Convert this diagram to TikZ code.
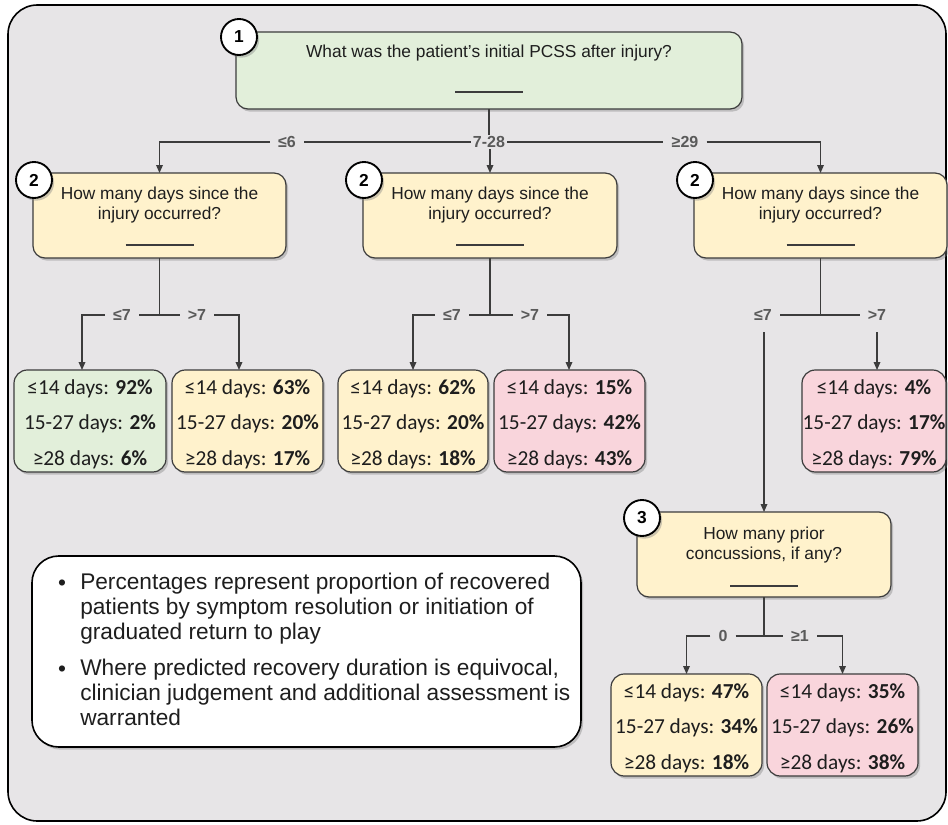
\documentclass[tikz,border=0pt]{standalone}
\usepackage{fontspec}
\setmainfont{Liberation Sans}
\newfontfamily\calfont{Carlito}
\usetikzlibrary{shadows,arrows.meta,calc}
\definecolor{bgc}{HTML}{E7E5E7}
\definecolor{grn}{HTML}{E2EFDA}
\definecolor{ylw}{HTML}{FFF2CC}
\definecolor{pnk}{HTML}{F9D5DC}
\definecolor{edge}{HTML}{3C3C3C}
\definecolor{txt}{HTML}{1E1E1E}
\definecolor{lblc}{HTML}{5A5A5A}
\begin{document}
\begin{tikzpicture}[x=0.75pt,y=-0.75pt,
  sz/.style 2 args={minimum width=0.75pt*#1,minimum height=0.75pt*#2},
  shd/.style={drop shadow={shadow xshift=1.6pt,shadow yshift=-2pt,opacity=0.4}},
  qbox/.style={draw=edge,line width=0.9pt,rounded corners=9pt,fill=ylw,inner sep=0pt,outer sep=0pt,shd},
  leaf/.style={draw=edge,line width=0.9pt,rounded corners=10pt,inner sep=0pt,outer sep=0pt,shd},
  qtext/.style={font=\fontsize{13}{15}\selectfont,align=center,text=txt,inner sep=0pt},
  ltext/.style={font=\calfont\fontsize{16}{26.5}\selectfont,align=center,text=txt,inner sep=0pt},
  num/.style={circle,draw=black,line width=1.4pt,fill=white,minimum size=27pt,inner sep=0pt,font=\bfseries\fontsize{13}{13}\selectfont,shd},
  lbl/.style={fill=bgc,text=lblc,font=\bfseries\fontsize{12}{12}\selectfont,inner ysep=1pt,inner xsep=6pt},
  conn/.style={draw=edge,line width=0.9pt},
  arr/.style={conn,-{Triangle[length=6pt,width=5pt]}},
  uline/.style={draw=edge,line width=0.9pt},
  notetext/.style={anchor=north west,inner sep=0pt,align=left,text=txt,font=\fontsize{17}{18.75}\selectfont},
  bullet/.style={anchor=base,inner sep=0pt,text=txt,font=\fontsize{17}{18.75}\selectfont}
]
\useasboundingbox (0,0) rectangle (948,824);
% frame
\node (frame) [draw=black,line width=1.2pt,rounded corners=22pt,fill=bgc,inner sep=0pt,sz={938}{816}] at (477,413) {};

% question boxes
\node (q1) [qbox,fill=grn,sz={506}{77}] at (489,70.5) {};
\node (q1t) [qtext] at ($(q1.north)+(0,21)$) {What was the patient’s initial PCSS after injury?};
\draw[uline] ($(q1.north)+(-34,60)$) -- ($(q1.north)+(34,60)$);
\node (c1) [num] at ($(q1.north west)+(3,5)$) {1};

\node (q2a) [qbox,sz={253}{85}] at (159.5,215.5) {};
\node (q2b) [qbox,sz={254}{85}] at (490,215.5) {};
\node (q2c) [qbox,sz={253}{85}] at (820.5,215.5) {};
\foreach \q in {q2a,q2b,q2c}{
  \node (\q t) [qtext] at ($(\q.north)+(0,32)$) {How many days since the\\injury occurred?};
  \draw[uline] ($(\q.north)+(-34,72)$) -- ($(\q.north)+(34,72)$);
  \node (\q c) [num] at ($(\q.north west)+(1,7)$) {2};
}

\node (q3) [qbox,sz={254}{85}] at (764,554.5) {};
\node (q3t) [qtext] at ($(q3.north)+(0,33)$) {How many prior\\concussions, if any?};
\draw[uline] ($(q3.north)+(-34,74)$) -- ($(q3.north)+(34,74)$);
\node (q3c) [num] at ($(q3.north west)+(5,6)$) {3};

% leaves
\node (L1) [leaf,fill=grn,sz={152}{102}] at (90,421) {};
\node (L2) [leaf,fill=ylw,sz={151}{102}] at (247.5,421) {};
\node (L3) [leaf,fill=ylw,sz={150}{102}] at (413,421) {};
\node (L4) [leaf,fill=pnk,sz={151}{102}] at (569.5,421) {};
\node (L5) [leaf,fill=pnk,sz={144}{102}] at (874,421) {};
\node (L6) [leaf,fill=ylw,sz={151}{102}] at (686.5,725) {};
\node (L7) [leaf,fill=pnk,sz={151}{102}] at (842.5,725) {};

\node (L1t) [ltext] at ($(L1.center)+(0,3)$) {≤14 days: \textbf{92\%}\\15-27 days: \textbf{2\%}\\≥28 days: \textbf{6\%}};
\node (L2t) [ltext] at ($(L2.center)+(0,3)$) {≤14 days: \textbf{63\%}\\15-27 days: \textbf{20\%}\\≥28 days: \textbf{17\%}};
\node (L3t) [ltext] at ($(L3.center)+(0,3)$) {≤14 days: \textbf{62\%}\\15-27 days: \textbf{20\%}\\≥28 days: \textbf{18\%}};
\node (L4t) [ltext] at ($(L4.center)+(0,3)$) {≤14 days: \textbf{15\%}\\15-27 days: \textbf{42\%}\\≥28 days: \textbf{43\%}};
\node (L5t) [ltext] at ($(L5.center)+(0,3)$) {≤14 days: \textbf{4\%}\\15-27 days: \textbf{17\%}\\≥28 days: \textbf{79\%}};
\node (L6t) [ltext] at ($(L6.center)+(0,3)$) {≤14 days: \textbf{47\%}\\15-27 days: \textbf{34\%}\\≥28 days: \textbf{18\%}};
\node (L7t) [ltext] at ($(L7.center)+(0,3)$) {≤14 days: \textbf{35\%}\\15-27 days: \textbf{26\%}\\≥28 days: \textbf{38\%}};

% level 0 connectors
\node (l6) [lbl] at (287,142) {≤6};
\node (l728) [lbl,inner xsep=1.5pt] at (489,142) {7-28};
\node (l29) [lbl] at (685,142) {≥29};
\draw[arr] (l6.west) -| (q2a.north);
\draw[conn] (l6.east) -- (l728.west);
\draw[conn] (l728.east) -- (l29.west);
\draw[arr] (l29.east) -| (q2c.north);
\draw[conn] (q1.south) -- (l728.north);
\draw[arr] (l728.south) -- (l728.south -| q2b.north) -- (q2b.north);

% level 1 left
\node (la1) [lbl] at (122,315) {≤7};
\node (lb1) [lbl] at (197,315) {>7};
\coordinate (ja) at (159.5,315);
\coordinate (a1) at (82,315);
\coordinate (b1) at (239,315);
\draw[conn] (q2a.south) -- (ja);
\draw[conn] (la1.east) -- (lb1.west);
\draw[arr] (la1.west) -- (a1) -- (a1 |- L1.north);
\draw[arr] (lb1.east) -- (b1) -- (b1 |- L2.north);

% level 1 middle
\node (la2) [lbl] at (452,315) {≤7};
\node (lb2) [lbl] at (530,315) {>7};
\coordinate (jb) at (490,315);
\coordinate (a2) at (413,315);
\coordinate (b2) at (569,315);
\draw[conn] (q2b.south) -- (jb);
\draw[conn] (la2.east) -- (lb2.west);
\draw[arr] (la2.west) -- (a2) -- (a2 |- L3.north);
\draw[arr] (lb2.east) -- (b2) -- (b2 |- L4.north);

% level 1 right
\node (la3) [lbl] at (763,315) {≤7};
\node (lb3) [lbl] at (877,315) {>7};
\coordinate (jc) at (820.5,315);
\coordinate (v1) at (764,332);
\coordinate (v2) at (877,332);
\draw[conn] (q2c.south) -- (jc);
\draw[conn] (la3.east) -- (lb3.west);
\draw[arr] (v1) -- (v1 |- q3.north);
\draw[arr] (v2) -- (v2 |- L5.north);

% level 2
\node (l0) [lbl] at (723,636) {0};
\node (l1p) [lbl] at (800,636) {≥1};
\coordinate (jd) at (764,636);
\draw[conn] (q3.south) -- (jd);
\draw[conn] (l0.east) -- (l1p.west);
\draw[arr] (l0.west) -| (L6.north);
\draw[arr] (l1p.east) -| (L7.north);

% note box
\node (note) [draw=black,line width=1.2pt,fill=white,rounded corners=20pt,inner sep=0pt,sz={549}{191},shd] at (306.5,651.5) {};
\node (bu1) [bullet] at (62,590) {•};
\node (bu2) [bullet] at (62,676) {•};
\node (n1) [notetext] at (80,573) {Percentages represent proportion of recovered\\patients by symptom resolution or initiation of\\graduated return to play};
\node (n2) [notetext] at (80,659) {Where predicted recovery duration is equivocal,\\clinician judgement and additional assessment is\\warranted};
\end{tikzpicture}
\end{document}
